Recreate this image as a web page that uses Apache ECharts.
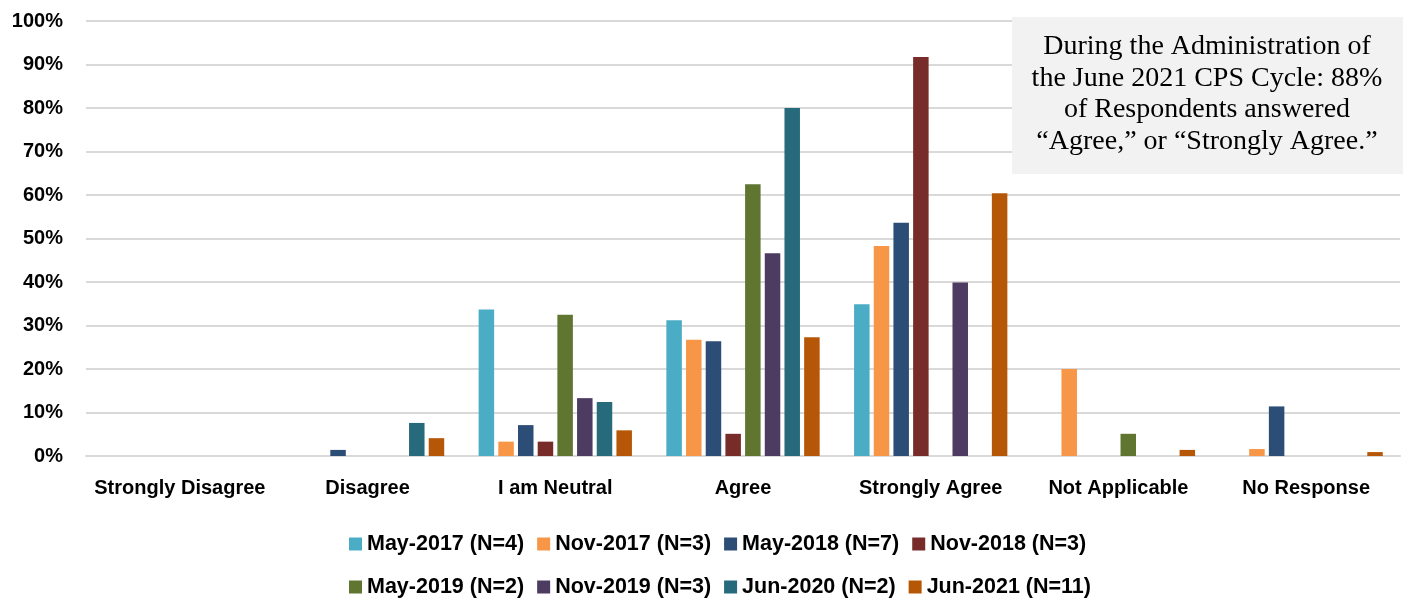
<!DOCTYPE html>
<html>
<head>
<meta charset="utf-8">
<script src="https://cdn.jsdelivr.net/npm/echarts@6/dist/echarts.min.js"></script>
<style>
  html, body { margin: 0; padding: 0; background: #fff; }
  #chart { width: 1407px; height: 598px; }
</style>
</head>
<body>
<div id="chart"></div>
<script>
// categories and survey waves
const categories = ['Strongly Disagree', 'Disagree', 'I am Neutral', 'Agree', 'Strongly Agree', 'Not Applicable', 'No Response']
const waves = ['May-2017 (N=4)', 'Nov-2017 (N=3)', 'May-2018 (N=7)', 'Nov-2018 (N=3)',
               'May-2019 (N=2)', 'Nov-2019 (N=3)', 'Jun-2020 (N=2)', 'Jun-2021 (N=11)']

// percent of respondents, one array per wave
const may2017 = [0, 0, 33.7, 31.2, 34.9, 0, 0]
const nov2017 = [0, 0, 3.3, 26.7, 48.3, 20.0, 1.6]
const may2018 = [0, 1.4, 7.1, 26.4, 53.6, 0, 11.4]
const nov2018 = [0, 0, 3.3, 5.1, 91.7, 0, 0]
const may2019 = [0, 0, 32.5, 62.5, 0, 5.1, 0]
const nov2019 = [0, 0, 13.3, 46.6, 39.9, 0, 0]
const jun2020 = [0, 7.6, 12.4, 80.0, 0, 0, 0]
const jun2021 = [0, 4.1, 5.9, 27.3, 60.4, 1.4, 0.9]

const yTicks = [0, 10, 20, 30, 40, 50, 60, 70, 80, 90, 100]

const colors = ['#4BACC6', '#F79646', '#2C4D75', '#772C2A', '#5F7530', '#4D3B62', '#276A7C', '#B65708']
const allValues = [may2017, nov2017, may2018, nov2018, may2019, nov2019, jun2020, jun2021]

const note = 'During the Administration of\nthe June 2021 CPS Cycle: 88%\nof Respondents answered\n\u201CAgree,\u201D or \u201CStrongly Agree.\u201D'

const chart = echarts.init(document.getElementById('chart'))

const labelFont = { color: '#000', fontWeight: 'bold', fontFamily: 'Liberation Sans, Arial, sans-serif' }

const legendBase = {
  icon: 'rect',
  itemWidth: 13,
  itemHeight: 13,
  itemGap: 13,
  textStyle: { ...labelFont, fontSize: 21.5 }
}

chart.setOption({
  animation: false,
  color: colors,
  grid: { left: 86, right: 7, top: 21, bottom: 142 },
  legend: [
    { ...legendBase, left: 344, top: 528, data: waves.slice(0, 4) },
    { ...legendBase, left: 344, top: 571, data: waves.slice(4) }
  ],
  xAxis: {
    type: 'category',
    data: categories,
    axisTick: { show: false },
    axisLine: { lineStyle: { color: '#D9D9D9', width: 2 } },
    axisLabel: { ...labelFont, fontSize: 20, margin: 22, interval: 0 }
  },
  yAxis: {
    type: 'value',
    min: yTicks[0],
    max: yTicks[yTicks.length - 1],
    interval: 10,
    axisLine: { show: false },
    axisTick: { show: false },
    splitLine: { lineStyle: { color: '#D9D9D9', width: 2 } },
    axisLabel: { ...labelFont, fontSize: 20, margin: 23, formatter: '{value}%' }
  },
  series: waves.map((name, i) => ({
    name,
    type: 'bar',
    data: allValues[i],
    barWidth: 15.5,
    barGap: '27%'
  })),
  graphic: [
    {
      type: 'rect',
      shape: { x: 1012, y: 17, width: 391, height: 157 },
      style: { fill: '#F2F2F2' },
      z: 10
    },
    {
      type: 'text',
      x: 1207,
      y: 94,
      z: 11,
      style: {
        text: note,
        fill: '#000',
        font: '28px "Liberation Serif", "Times New Roman", serif',
        lineHeight: 31.5,
        align: 'center',
        verticalAlign: 'middle'
      }
    }
  ]
})

window.addEventListener('resize', () => chart.resize())
</script>
</body>
</html>
